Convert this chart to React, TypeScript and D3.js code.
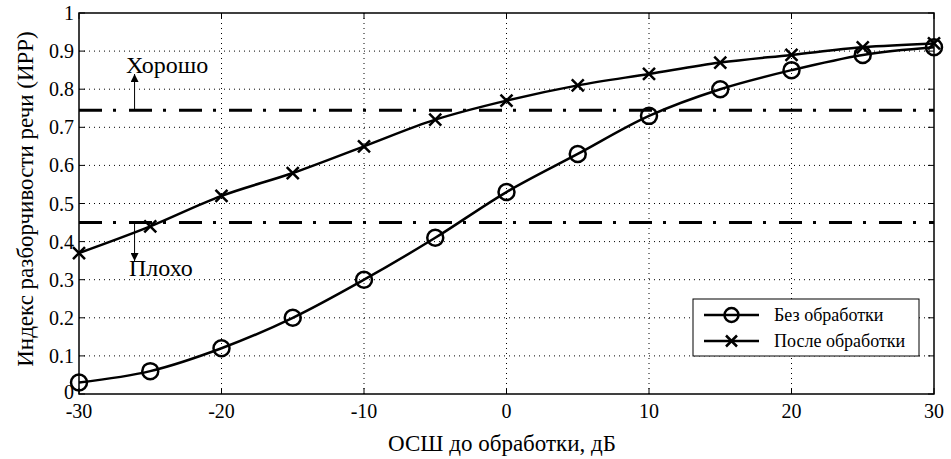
import React from "react";
import * as d3 from "d3";

// SNR before processing, dB
const snr = [-30, -25, -20, -15, -10, -5, 0, 5, 10, 15, 20, 25, 30];
// Speech intelligibility index without processing
const withoutProcessing = [0.03, 0.06, 0.12, 0.2, 0.3, 0.41, 0.53, 0.63, 0.73, 0.8, 0.85, 0.89, 0.91];
// Speech intelligibility index after processing
const afterProcessing = [0.37, 0.44, 0.52, 0.58, 0.65, 0.72, 0.77, 0.81, 0.84, 0.87, 0.89, 0.91, 0.92];

const xTicks = [-30, -20, -10, 0, 10, 20, 30];
const yTicks = [0, 0.1, 0.2, 0.3, 0.4, 0.5, 0.6, 0.7, 0.8, 0.9, 1];

// Threshold levels
const goodLevel = 0.745;
const poorLevel = 0.45;

const seriesNames = ["Без обработки", "После обработки"];

const W = 951;
const H = 459;
const M = { left: 79, right: 934, top: 13, bottom: 394 };
const FONT = '"Liberation Serif", "DejaVu Serif", serif';
const txt = { fontFamily: FONT };

export default function App() {
  const x = d3.scaleLinear().domain([-30, 30]).range([M.left, M.right]);
  const y = d3.scaleLinear().domain([0, 1]).range([M.bottom, M.top]);

  const line = d3
    .line<[number, number]>()
    .x((d) => x(d[0]))
    .y((d) => y(d[1]))
    .curve(d3.curveCatmullRom.alpha(0.5));

  const s1 = snr.map((v, i) => [v, withoutProcessing[i]] as [number, number]);
  const s2 = snr.map((v, i) => [v, afterProcessing[i]] as [number, number]);

  const tickLen = 6;
  const cross = (cx: number, cy: number, r: number) =>
    `M${cx - r},${cy - r}L${cx + r},${cy + r}M${cx - r},${cy + r}L${cx + r},${cy - r}`;

  const arrowX = x(-26.1);

  return (
    <svg width={W} height={H} style={{ position: "absolute", left: 0, top: 0, background: "#fff", fontFamily: FONT }}>
      <defs>
        <marker id="ah" viewBox="0 0 10 10" refX="10" refY="5" markerWidth="8" markerHeight="8" markerUnits="userSpaceOnUse" orient="auto">
          <path d="M0,0L10,5L0,10Z" fill="#000" />
        </marker>
      </defs>
      <rect x={0} y={0} width={W} height={H} fill="#fff" />

      {/* grid */}
      {yTicks.slice(1, -1).map((t) => (
        <line key={"gy" + t} x1={M.left} x2={M.right} y1={y(t)} y2={y(t)} stroke="#000" strokeWidth={1} strokeDasharray="1,4" />
      ))}
      {xTicks.slice(1, -1).map((t) => (
        <line key={"gx" + t} x1={x(t)} x2={x(t)} y1={M.top} y2={M.bottom} stroke="#000" strokeWidth={1} strokeDasharray="1,4" />
      ))}

      {/* threshold lines */}
      {[goodLevel, poorLevel].map((lv) => (
        <line key={"th" + lv} x1={M.left} x2={M.right} y1={y(lv)} y2={y(lv)} stroke="#000" strokeWidth={3} strokeDasharray="23,11,3,13" />
      ))}

      {/* frame and ticks */}
      <rect x={M.left} y={M.top} width={M.right - M.left} height={M.bottom - M.top} fill="none" stroke="#000" strokeWidth={1.5} />
      {yTicks.map((t) => (
        <g key={"ty" + t}>
          <line x1={M.left} x2={M.left + tickLen} y1={y(t)} y2={y(t)} stroke="#000" />
          <line x1={M.right} x2={M.right - tickLen} y1={y(t)} y2={y(t)} stroke="#000" />
          <text x={M.left - 5} y={t === 0 ? y(t) - 2 : y(t)} dy="0.35em" textAnchor="end" fontSize={20} style={txt}>
            {t === 0 || t === 1 ? String(t) : t.toFixed(1)}
          </text>
        </g>
      ))}
      {xTicks.map((t) => (
        <g key={"tx" + t}>
          <line x1={x(t)} x2={x(t)} y1={M.bottom} y2={M.bottom - tickLen} stroke="#000" />
          <line x1={x(t)} x2={x(t)} y1={M.top} y2={M.top + tickLen} stroke="#000" />
          <text x={x(t)} y={M.bottom + 24} textAnchor="middle" fontSize={20} style={txt}>
            {String(t)}
          </text>
        </g>
      ))}

      {/* series */}
      <path d={line(s1) ?? ""} fill="none" stroke="#000" strokeWidth={2.5} />
      <path d={line(s2) ?? ""} fill="none" stroke="#000" strokeWidth={2.5} />
      {s1.map((d, i) => (
        <ellipse key={"c" + i} cx={x(d[0])} cy={y(d[1])} rx={8} ry={8} fill="none" stroke="#000" strokeWidth={2.5} />
      ))}
      {s2.map((d, i) => (
        <path key={"x" + i} d={cross(x(d[0]), y(d[1]), 6)} fill="none" stroke="#000" strokeWidth={2.5} />
      ))}

      {/* annotation arrows */}
      <line x1={arrowX} x2={arrowX} y1={y(goodLevel)} y2={74} stroke="#000" strokeWidth={1} markerEnd="url(#ah)" />
      <text x={126} y={73} fontSize={24} style={txt}>Хорошо</text>
      <line x1={arrowX} x2={arrowX} y1={y(poorLevel)} y2={261} stroke="#000" strokeWidth={1} markerEnd="url(#ah)" />
      <text x={129} y={276} fontSize={24} style={txt}>Плохо</text>

      {/* legend */}
      <g>
        <rect x={693} y={299} width={226} height={57} fill="#fff" stroke="#000" strokeWidth={1} />
        <line x1={704} x2={759} y1={315} y2={315} stroke="#000" strokeWidth={2.5} />
        <ellipse cx={731.5} cy={315} rx={7} ry={7} fill="none" stroke="#000" strokeWidth={2.5} />
        <text x={774} y={315} dy="0.35em" fontSize={18} style={txt}>{seriesNames[0]}</text>
        <line x1={704} x2={759} y1={341} y2={341} stroke="#000" strokeWidth={2.5} />
        <path d={cross(731.5, 341, 5.5)} fill="none" stroke="#000" strokeWidth={2.5} />
        <text x={774} y={341} dy="0.35em" fontSize={18} style={txt}>{seriesNames[1]}</text>
      </g>

      {/* axis titles */}
      <text x={502} y={451} textAnchor="middle" fontSize={23} style={txt}>
        ОСШ до обработки, дБ
      </text>
      <text transform={`translate(33, 199) rotate(-90)`} textAnchor="middle" fontSize={23} style={txt}>
        Индекс разборчивости речи (ИРР)
      </text>
    </svg>
  );
}
